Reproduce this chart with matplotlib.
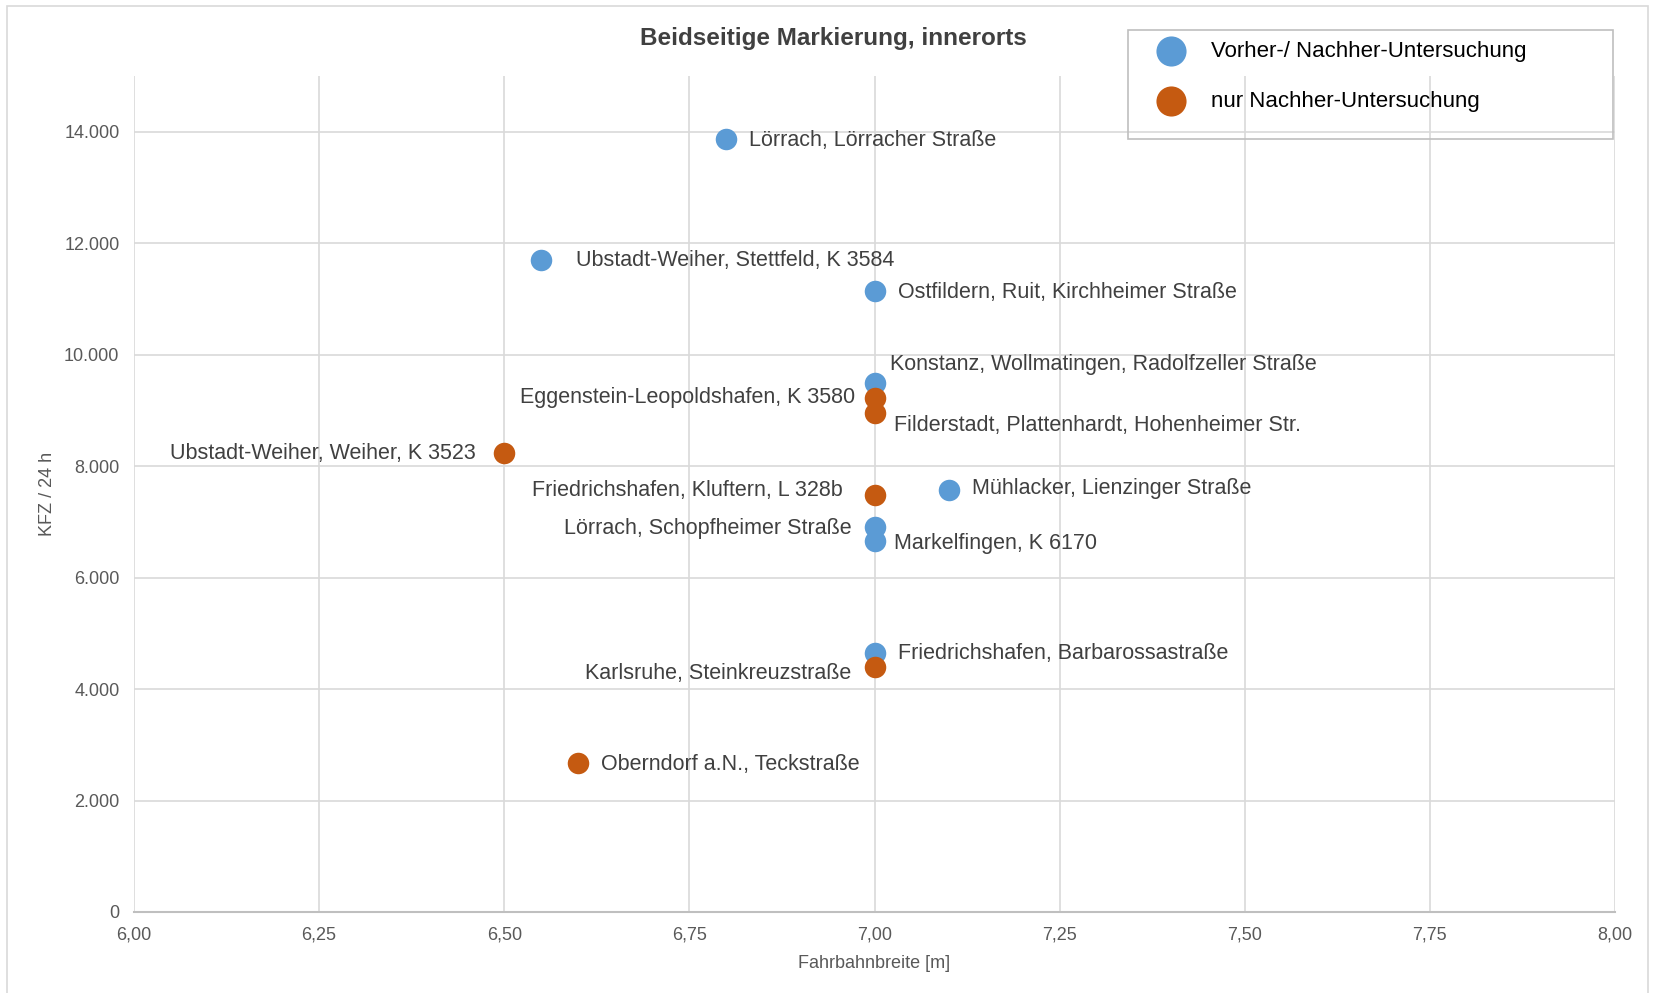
import matplotlib.pyplot as plt
from matplotlib.patches import Rectangle
from matplotlib.ticker import FuncFormatter, MultipleLocator

plt.rcParams['font.family'] = ['Liberation Sans', 'DejaVu Sans']

# Vorher-/ Nachher-Untersuchung (blue)
vn_names = ['Lörrach, Lörracher Straße', 'Ubstadt-Weiher, Stettfeld, K 3584',
            'Ostfildern, Ruit, Kirchheimer Straße', 'Konstanz, Wollmatingen, Radolfzeller Straße',
            'Mühlacker, Lienzinger Straße', 'Lörrach, Schopfheimer Straße',
            'Markelfingen, K 6170', 'Friedrichshafen, Barbarossastraße']
vn_width = [6.80, 6.55, 7.00, 7.00, 7.10, 7.00, 7.00, 7.00]
vn_kfz = [13870, 11700, 11150, 9500, 7580, 6900, 6650, 4650]

# nur Nachher-Untersuchung (orange)
n_names = ['Eggenstein-Leopoldshafen, K 3580', 'Filderstadt, Plattenhardt, Hohenheimer Str.',
           'Ubstadt-Weiher, Weiher, K 3523', 'Friedrichshafen, Kluftern, L 328b',
           'Karlsruhe, Steinkreuzstraße', 'Oberndorf a.N., Teckstraße']
n_width = [7.00, 7.00, 6.50, 7.00, 7.00, 6.60]
n_kfz = [9220, 8950, 8240, 7480, 4400, 2670]

# label offsets in pixels (dx, dy, ha)
vn_offsets = [(23, -2, 'left'), (35, -1, 'left'), (23, -2, 'left'), (16, 18, 'left'),
              (23, 1, 'left'), (-23, -1, 'right'), (19, -2, 'left'), (23, -1, 'left')]
n_offsets = [(-19, 1, 'right'), (19, -12, 'left'), (-28, -1, 'right'), (-32, 5, 'right'),
             (-23, -7, 'right'), (23, -1, 'left')]

blue = '#5B9BD5'
orange = '#C55A11'
text_col = '#404040'
tick_col = '#595959'

W, H = 1657, 993
fig = plt.figure(figsize=(W / 100, H / 100), dpi=100)
ax = fig.add_axes([134 / W, 1 - 912 / H, (1615 - 134) / W, (912 - 76) / H])

ax.scatter(vn_width, vn_kfz, s=240, color=blue, zorder=3, linewidths=0,
           label='Vorher-/ Nachher-Untersuchung')
ax.scatter(n_width, n_kfz, s=240, color=orange, zorder=3, linewidths=0,
           label='nur Nachher-Untersuchung')

for names, xs, ys, offs in [(vn_names, vn_width, vn_kfz, vn_offsets),
                            (n_names, n_width, n_kfz, n_offsets)]:
    for name, x, y, (dx, dy, ha) in zip(names, xs, ys, offs):
        ax.annotate(name, (x, y), xytext=(dx, dy), textcoords='offset pixels',
                    ha=ha, va='center', fontsize=15.5, color=text_col)

ax.set_xlim(6, 8)
ax.set_ylim(0, 15000)
ax.xaxis.set_major_locator(MultipleLocator(0.25))
ax.set_yticks(range(0, 15000, 2000))
ax.xaxis.set_major_formatter(FuncFormatter(lambda v, p: f'{v:.2f}'.replace('.', ',')))
ax.yaxis.set_major_formatter(FuncFormatter(lambda v, p: f'{int(v):,}'.replace(',', '.')))
ax.tick_params(length=0, labelsize=13, labelcolor=tick_col)
ax.tick_params(axis='y', pad=10.5)
ax.tick_params(axis='x', pad=10.5)
ax.grid(True, color='#d9d9d9', linewidth=1.2)
ax.set_axisbelow(True)
for s in ['top', 'right', 'left']:
    ax.spines[s].set_visible(False)
ax.spines['bottom'].set_color('#bfbfbf')
ax.spines['bottom'].set_linewidth(1.5)

ax.set_xlabel('Fahrbahnbreite [m]', fontsize=13, color=tick_col, labelpad=8)
ax.set_ylabel('KFZ / 24 h', fontsize=13, color=tick_col, labelpad=6)

fig.text(833 / W, 1 - 39 / H, 'Beidseitige Markierung, innerorts', ha='center', va='center',
         fontsize=17.5, fontweight='bold', color=text_col)

# legend with a separate box
fig.legend(loc='upper left', bbox_to_anchor=(1138 / W, 1 - 30 / H), frameon=False,
           fontsize=16, markerscale=1.4, borderpad=0, handlelength=2, handletextpad=0.8,
           labelspacing=1.3, labelcolor='black')
fig.patches.append(Rectangle((1128 / W, 1 - 139 / H), (1613 - 1128) / W, (139 - 30) / H,
                             transform=fig.transFigure, fill=False, edgecolor='#bfbfbf',
                             linewidth=1.2))
# outer chart frame
fig.patches.append(Rectangle((7 / W, -0.01), (1648 - 7) / W, 1.01 - 6 / H,
                             transform=fig.transFigure, fill=False, edgecolor='#d9d9d9',
                             linewidth=1.2))

fig.savefig('out.png', dpi=100)
